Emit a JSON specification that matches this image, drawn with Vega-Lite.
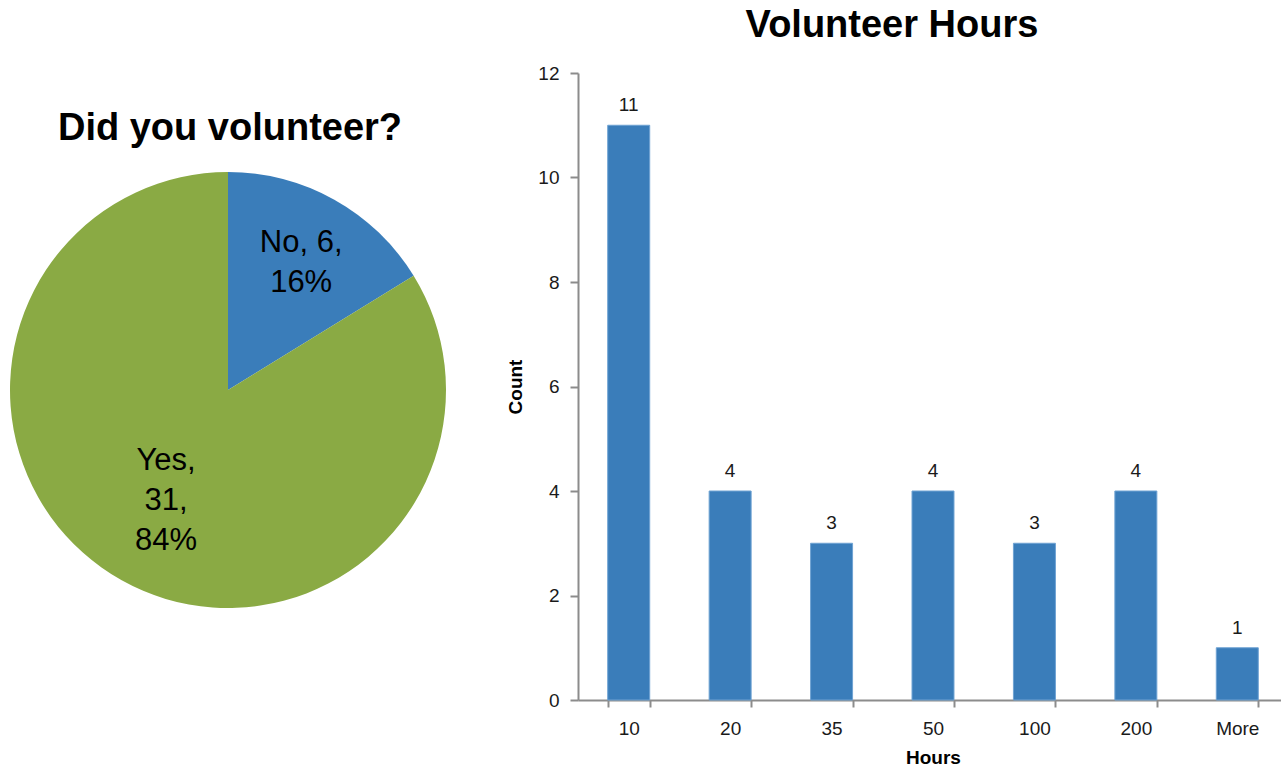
{
  "$schema": "https://vega.github.io/schema/vega-lite/v6.json",
  "background": "white",
  "padding": {"left": 0, "top": 7, "right": -7, "bottom": 0},
  "bounds": "flush",
  "spacing": 122,
  "config": {
    "view": {"stroke": null},
    "font": "Liberation Sans",
    "axis": {"labelFont": "Liberation Sans", "titleFont": "Liberation Sans"}
  },
  "hconcat": [
    {
      "width": 456,
      "height": 634,
      "title": {"text": "Did you volunteer?", "fontSize": 38, "fontWeight": "bold", "font": "Liberation Sans", "color": "#000000", "baseline": "alphabetic", "offset": -105, "anchor": "middle", "dx": 2},
      "data": {"values": [
        {"answer": "No", "count": 6, "label": "No, 6,\n16%"},
        {"answer": "Yes", "count": 31, "label": "Yes,\n31,\n84%"}
      ]},
      "encoding": {
        "theta": {"field": "count", "type": "quantitative", "stack": true},
        "order": {"field": "answer"}
      },
      "layer": [
        {
          "mark": {"type": "arc", "outerRadius": 218},
          "encoding": {
            "color": {"field": "answer", "type": "nominal", "scale": {"domain": ["No", "Yes"], "range": ["#3A7DBA", "#8AAA44"]}, "legend": null}
          }
        },
        {
          "mark": {"type": "text", "radius": 150, "dy": -16, "fontSize": 31, "lineHeight": 40, "lineBreak": "\n", "color": "#000000", "font": "Liberation Sans"},
          "encoding": {
            "text": {"field": "label"},
            "opacity": {"condition": {"test": "datum.answer === 'No'", "value": 1}, "value": 0}
          }
        },
        {
          "mark": {"type": "text", "radius": 127, "dy": -40, "fontSize": 31, "lineHeight": 40, "lineBreak": "\n", "color": "#000000", "font": "Liberation Sans"},
          "encoding": {
            "text": {"field": "label"},
            "opacity": {"condition": {"test": "datum.answer === 'Yes'", "value": 1}, "value": 0}
          }
        }
      ]
    },
    {
      "width": 710,
      "height": 627,
      "title": {"text": "Volunteer Hours", "fontSize": 38, "fontWeight": "bold", "font": "Liberation Sans", "color": "#000000", "baseline": "alphabetic", "offset": -11, "dx": -41},
      "data": {"values": [
        {"hours": "10", "count": 11},
        {"hours": "20", "count": 4},
        {"hours": "35", "count": 3},
        {"hours": "50", "count": 4},
        {"hours": "100", "count": 3},
        {"hours": "200", "count": 4},
        {"hours": "More", "count": 1}
      ]},
      "encoding": {
        "x": {
          "field": "hours", "type": "nominal", "sort": null,
          "scale": {"paddingInner": 0.586, "paddingOuter": 0.293},
          "axis": {"title": "Hours", "labelAngle": 0, "tickBand": "extent", "tickSize": 7, "labelPadding": 12, "labelFontSize": 19, "labelColor": "#1a1a1a", "titleFontSize": 19, "titleFontWeight": "bold", "titleColor": "#000000", "titlePadding": 10, "domainColor": "#8c8c8c", "tickColor": "#8c8c8c", "domainWidth": 2, "tickWidth": 2}
        },
        "y": {
          "field": "count", "type": "quantitative",
          "scale": {"domain": [0, 12]},
          "axis": {"title": "Count", "values": [0, 2, 4, 6, 8, 10, 12], "grid": false, "tickSize": 8, "labelPadding": 11, "labelFontSize": 19, "labelColor": "#1a1a1a", "titleFontSize": 19, "titleFontWeight": "bold", "titleColor": "#000000", "titlePadding": 12, "domainColor": "#8c8c8c", "tickColor": "#8c8c8c", "domainWidth": 2, "tickWidth": 2}
        }
      },
      "layer": [
        {"mark": {"type": "bar", "color": "#3A7DBA", "stroke": "#6FA3D3", "strokeWidth": 1}},
        {"mark": {"type": "text", "baseline": "bottom", "dy": -10, "fontSize": 19, "color": "#1a1a1a", "font": "Liberation Sans"}, "encoding": {"text": {"field": "count", "type": "quantitative"}}}
      ]
    }
  ]
}
